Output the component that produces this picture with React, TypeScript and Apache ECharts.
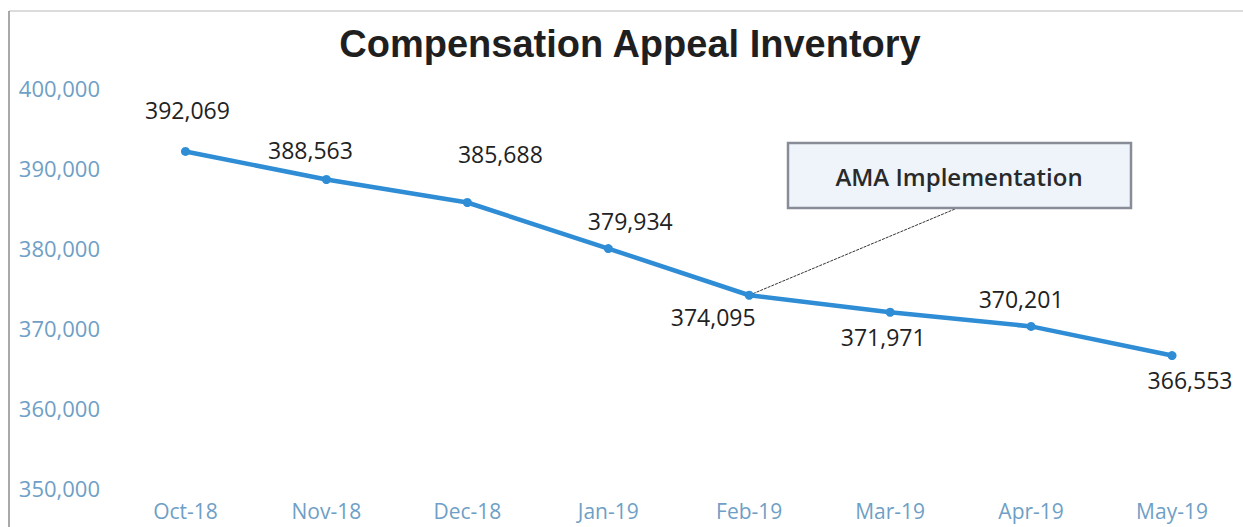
import React, { useEffect, useRef } from "react";
import * as echarts from "echarts";

const categories = ["Oct-18", "Nov-18", "Dec-18", "Jan-19", "Feb-19", "Mar-19", "Apr-19", "May-19"];
const inventory = [392069, 388563, 385688, 379934, 374095, 371971, 370201, 366553];
const labelPos = ["top", "top", "top", "top", "bottom", "bottom", "top", "bottom"];
const labelOffsets = [[2, -20], [-16, -8], [33, -27], [22, -7], [-36, 1], [-7, 4], [-10, -6], [18, 3]];
const yTicks = { min: 350000, max: 400000, interval: 10000 };
const annotationText = "AMA Implementation";
const annotationIndex = 4;

export default function App() {
  const ref = useRef<HTMLDivElement>(null);
  useEffect(() => {
    if (!ref.current) return;
    const chart = echarts.init(ref.current, undefined, { renderer: "svg" });
    const option: any = {
      animation: false,
      backgroundColor: "#ffffff",
      title: {
        text: "Compensation Appeal Inventory",
        left: 625,
        top: 20,
        textAlign: "center",
        textStyle: { fontFamily: "Liberation Sans, Arial", fontWeight: "bold", fontSize: 38, color: "#1f1f1f" },
      },
      grid: { left: 115, right: 0.5, top: 88, bottom: 39 },
      xAxis: {
        type: "category",
        data: categories,
        boundaryGap: true,
        axisLine: { show: false },
        axisTick: { show: false },
        axisLabel: { color: "#6f9fc6", fontSize: 21, lineHeight: 22, fontFamily: "Open Sans", margin: 12 },
      },
      yAxis: {
        type: "value",
        min: yTicks.min,
        max: yTicks.max,
        interval: yTicks.interval,
        splitLine: { show: false },
        axisLine: { show: false },
        axisTick: { show: false },
        axisLabel: {
          color: "#6f9fc6",
          fontSize: 22,
          fontFamily: "Open Sans",
          margin: 15,
          formatter: (v: number) => v.toLocaleString("en-US"),
        },
      },
      series: [
        {
          type: "line",
          data: inventory.map((v, i) => ({
            value: v,
            label: { position: labelPos[i], offset: labelOffsets[i] },
          })),
          lineStyle: { color: "#2f8dd6", width: 4.5 },
          itemStyle: { color: "#2f8dd6" },
          symbol: "circle",
          symbolSize: 9,
          label: {
            show: true,
            fontSize: 23,
            fontFamily: "Open Sans",
            color: "#222222",
            formatter: (p: any) => Number(p.value).toLocaleString("en-US"),
          },
        },
      ],
    };
    chart.setOption(option);
    const pt = chart.convertToPixel({ seriesIndex: 0 }, [annotationIndex, inventory[annotationIndex]]) as number[];
    chart.setOption({
      graphic: [
        { type: "line", shape: { x1: 9, y1: 11, x2: 1243, y2: 11 }, style: { stroke: "#cfcfcf", lineWidth: 1.5 } },
        { type: "line", shape: { x1: 9, y1: 11, x2: 9, y2: 527 }, style: { stroke: "#8c8c8c", lineWidth: 1.5 } },
        {
          type: "line",
          shape: { x1: pt[0], y1: pt[1], x2: 955, y2: 209 },
          style: { stroke: "#333333", lineWidth: 1, lineDash: [3, 1] },
          z: 1,
        },
        {
          type: "rect",
          shape: { x: 788, y: 143, width: 343, height: 65 },
          style: { fill: "#eef4fa", stroke: "#878c96", lineWidth: 2.5 },
          z: 10,
        },
        {
          type: "text",
          x: 959,
          y: 176,
          style: {
            text: annotationText,
            align: "center",
            verticalAlign: "middle",
            fontSize: 24,
            fontWeight: 600,
            fontFamily: "Open Sans",
            fill: "#2a2a2a",
          },
          z: 11,
        },
      ],
    });
    return () => chart.dispose();
  }, []);
  return <div ref={ref} style={{ position: "fixed", left: 0, top: 0, width: 1243, height: 527 }} />;
}
